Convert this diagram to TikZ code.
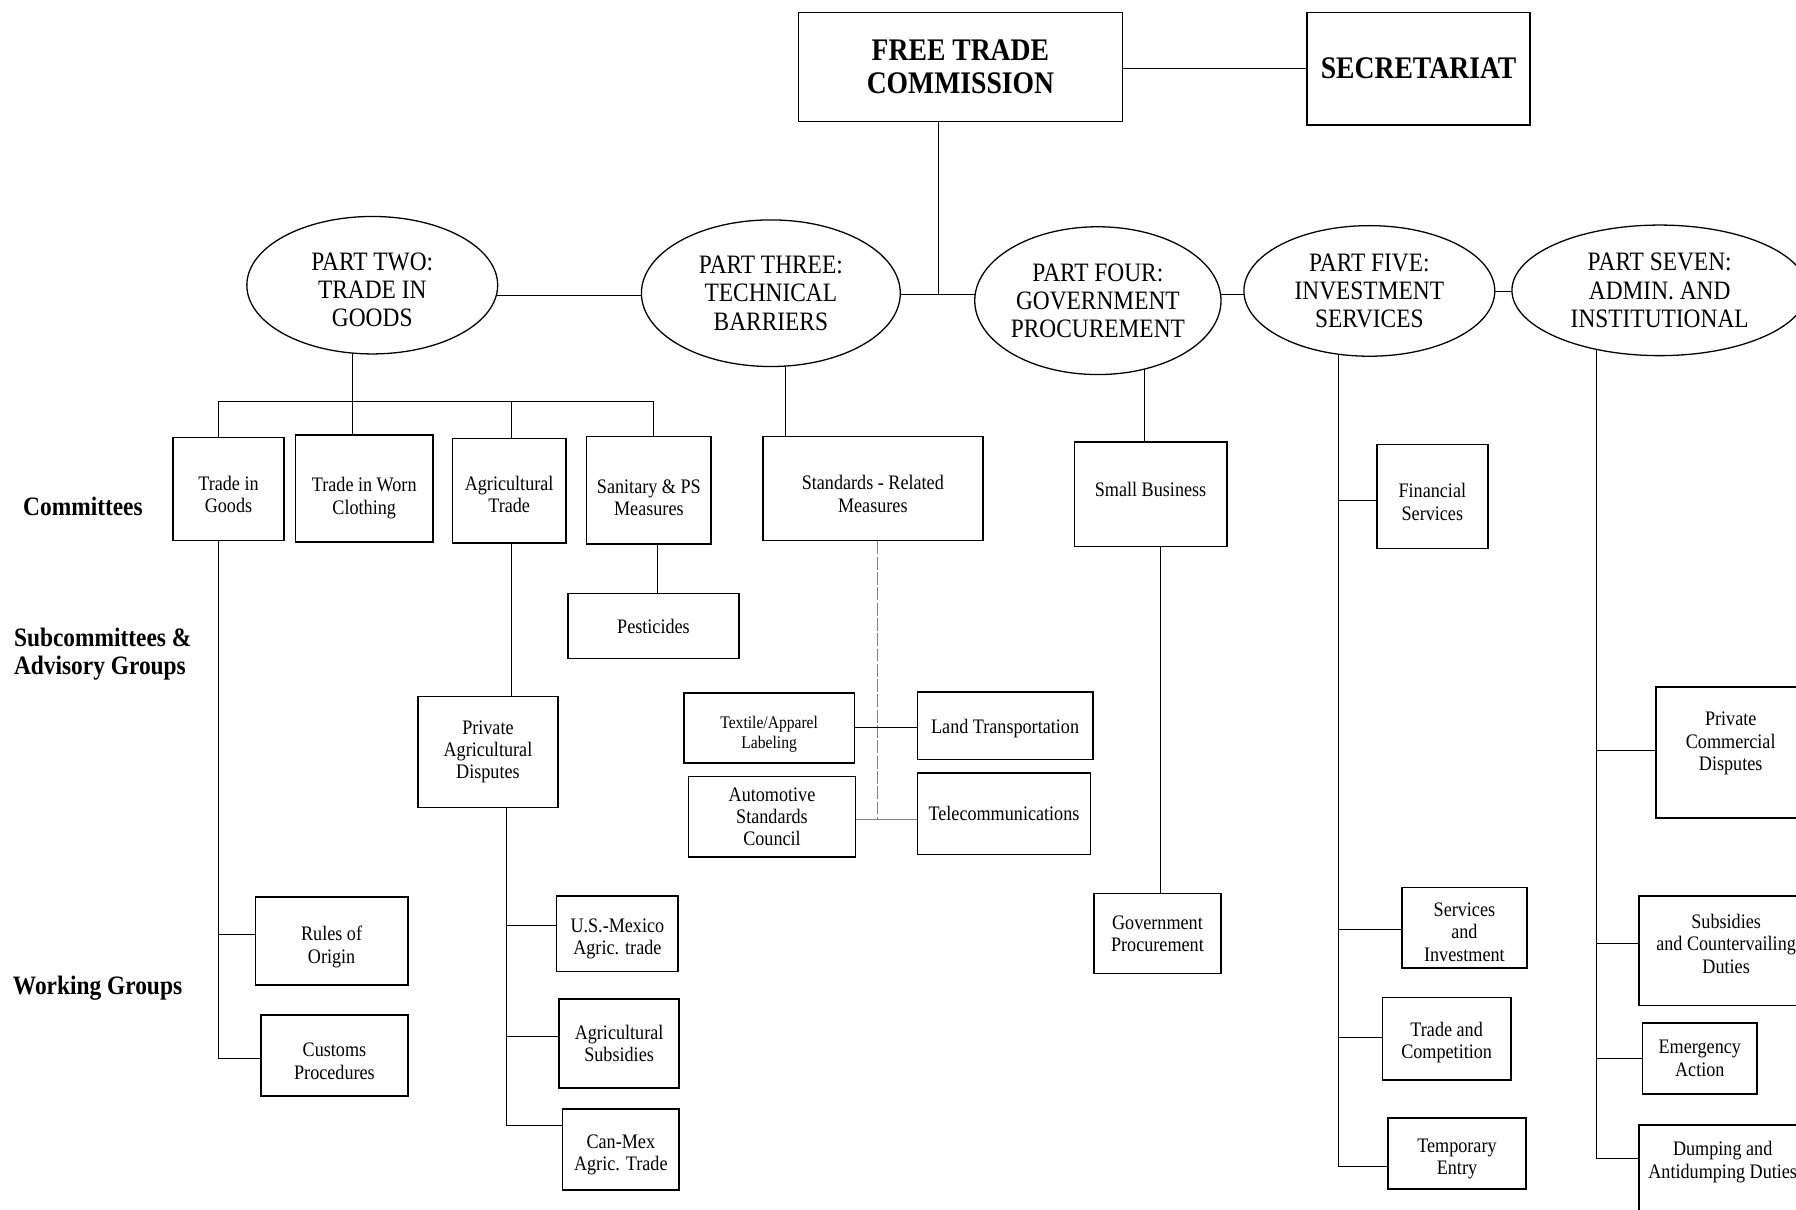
\documentclass[tikz,border=0pt]{standalone}
\usepackage{fontspec}
\setmainfont{Liberation Serif}[FakeStretch=0.88]
\usetikzlibrary{shapes.geometric,backgrounds}

\newcommand\mkbox[7][]{%
  \node[box,#1,minimum width={(#5-#3)*0.025cm},minimum height={(#6-#4)*0.025cm}] (#2) at ({(#3+#5)/2},{(#4+#6)/2}) {#7};}
\newcommand\mkell[7][]{%
  \node[part,#1,minimum width={#5*0.025cm},minimum height={#6*0.025cm}] (#2) at (#3,#4) {#7};}

\begin{document}
\begin{tikzpicture}[x=0.025cm,y=-0.025cm,
  box/.style={draw,line width=1pt,fill=white,inner sep=0pt,align=center,font=\fontsize{12.8}{13.9}\selectfont},
  small/.style={font=\fontsize{11}{12.1}\selectfont},
  down/.style={execute at begin node={\rule{0pt}{#1}}},
  up/.style={execute at end node={\rule[-#1]{0pt}{#1}}},
  part/.style={ellipse,draw,line width=0.8pt,fill=white,inner sep=0pt,align=center,font=\fontsize{16.5}{17.5}\selectfont},
  head/.style={font=\bfseries\fontsize{19.5}{20.6}\selectfont},
  lab/.style={anchor=west,align=left,inner sep=0pt,font=\bfseries\fontsize{16.5}{17.8}\selectfont},
  conn/.style={line width=0.8pt},
  faint/.style={line width=0.6pt,gray,dash pattern=on 8pt off 1.5pt}]

\useasboundingbox (0,0) rectangle (1568,1056);
\clip (0,0) rectangle (1568,1056);

% top
\mkbox[head]{ftc}{697}{11}{980}{106}{FREE TRADE\\COMMISSION}
\mkbox[head]{sec}{1141}{11}{1336}{109}{SECRETARIAT}

% parts
\mkell[down=51.3pt]{e2}{325}{249}{219}{120}{PART TWO:\\TRADE IN\\GOODS}
\mkell{e3}{673}{256}{226}{128}{PART THREE:\\TECHNICAL\\BARRIERS}
\mkell{e4}{958.5}{262.5}{211}{129}{PART FOUR:\\GOVERNMENT\\PROCUREMENT}
\mkell{e5}{1195.5}{254}{219}{114}{PART FIVE:\\INVESTMENT\\SERVICES}
\mkell{e7}{1449}{253.5}{258}{114}{PART SEVEN:\\ADMIN. AND\\INSTITUTIONAL}

% committees
\mkbox[down=29.7pt]{tig}{151}{382}{248}{472}{Trade in\\Goods}
\mkbox[down=34.5pt]{twc}{258}{380}{378}{473}{Trade in Worn\\Clothing}
\mkbox[down=27.5pt]{agt}{395}{383}{494}{474}{Agricultural\\Trade}
\mkbox[down=31.7pt]{sps}{512}{381}{621}{475}{Sanitary \& PS\\Measures}
\mkbox[down=29.7pt]{std}{666}{381}{858}{472}{Standards - Related\\Measures}
\mkbox[up=5.6pt]{sb}{938}{386}{1071}{477}{Small Business}
\mkbox[down=29.7pt]{fin}{1202}{388}{1299}{479}{Financial\\Services}

% subcommittees
\mkbox{pes}{496}{518}{645}{575}{Pesticides}
\mkbox{pad}{365}{608}{487}{705}{Private\\Agricultural\\Disputes}
\mkbox[small,down=27.4pt]{tex}{597}{605}{746}{666}{Textile/Apparel\\Labeling}
\mkbox{aut}{601}{678}{747}{748}{Automotive\\Standards\\Council}
\mkbox[down=12.8pt]{land}{801}{604}{954}{663}{Land Transportation}
\mkbox{tel}{801}{675}{952}{746}{Telecommunications}
\mkbox{pcd}{1446}{600}{1576}{714}{Private\\Commercial\\Disputes\\~}

% working groups
\mkbox{gp}{955}{780}{1066}{850}{Government\\Procurement}
\mkbox[down=30.3pt]{roo}{223}{783}{356}{860}{Rules of\\Origin}
\mkbox[down=29.7pt]{cus}{228}{886}{356}{957}{Customs\\Procedures}
\mkbox[down=28.9pt]{usm}{486}{782}{592}{848}{U.S.-Mexico\\Agric. trade}
\mkbox{ags}{488}{872}{593}{950}{Agricultural\\Subsidies}
\mkbox[down=28.9pt]{cmx}{491}{968}{593}{1039}{Can-Mex\\Agric. Trade}
\mkbox[down=41.4pt]{sai}{1224}{775}{1333}{845}{Services\\and\\Investment}
\mkbox[down=27.5pt]{tac}{1207}{871}{1319}{943}{Trade and\\Competition}
\mkbox[down=28.9pt]{tem}{1212}{976}{1332}{1038}{Temporary\\Entry}
\mkbox[up=8.5pt]{scd}{1431}{782}{1583}{878}{Subsidies\\and Countervailing\\Duties}
\mkbox{ema}{1434}{893}{1534}{955}{Emergency\\Action}
\mkbox{dad}{1431}{982}{1577}{1082}{Dumping and\\Antidumping Duties\\~\\~}

% row labels
\node[lab] (lc) at (20,442) {Committees};
\node[lab] (ls) at (12,571) {Subcommittees \&\\Advisory Groups};
\node[lab] (lw) at (11,863) {Working Groups};

% helper coordinates
\coordinate (cs) at (0,60);
\coordinate (j) at (819,257);
\coordinate (b23) at (0,258);
\coordinate (b57) at (0,254.6);
\coordinate (d2) at (308,350);
\coordinate (bl) at (191,350);
\coordinate (br) at (570,350);
\coordinate (x3) at (446,0);
\coordinate (rr) at (191,815.5);
\coordinate (rc) at (191,924);
\coordinate (p1) at (442,807.6);
\coordinate (p2) at (442,905);
\coordinate (p3) at (442,982.6);
\coordinate (xs) at (574,0);
\coordinate (xt) at (686,0);
\coordinate (sv) at (766,715);
\coordinate (tl) at (0,635);
\coordinate (xf) at (999,0);
\coordinate (xg) at (1013,0);
\coordinate (f1) at (1168,436.7);
\coordinate (f2) at (1168,811.4);
\coordinate (f3) at (1168,906);
\coordinate (f4) at (1168,1018.2);
\coordinate (s1) at (1393.5,655.4);
\coordinate (s2) at (1393.5,823.6);
\coordinate (s3) at (1393.5,924);
\coordinate (s4) at (1393.5,1011.4);

\begin{scope}[on background layer,conn]
  \draw (ftc.east |- cs) -- (sec.west |- cs);
  \draw (ftc.south -| j) -- (j);
  \draw (e3.center |- j) -- (e4.center |- j);
  \draw (e2.center |- b23) -- (e3.center |- b23);
  \draw (e4.center |- j) -- (e5.center |- j);
  \draw (e5.center |- b57) -- (e7.center |- b57);
  % part two
  \draw (e2.center -| d2) -- (d2);
  \draw (bl) -- (br);
  \draw (bl) -- (bl |- tig.north);
  \draw (d2) -- (d2 |- twc.north);
  \draw (bl -| x3) -- (x3 |- agt.north);
  \draw (br) -- (br |- sps.north);
  \draw (tig.south -| rr) -- (rc) -- (rc -| cus.west);
  \draw (rr) -- (rr -| roo.west);
  \draw (agt.south -| x3) -- (x3 |- pad.north);
  \draw (pad.south -| p1) -- (p3) -- (p3 -| cmx.west);
  \draw (p1) -- (p1 -| usm.west);
  \draw (p2) -- (p2 -| ags.west);
  \draw (sps.south -| xs) -- (xs |- pes.north);
  % part three
  \draw (e3.center -| xt) -- (xt |- std.north);
  \draw[faint] (std.south -| sv) -- (sv);
  \draw (tex.east |- tl) -- (land.west |- tl);
  \draw[gray] (aut.east |- sv) -- (tel.west |- sv);
  % part four
  \draw (e4.center -| xf) -- (xf |- sb.north);
  \draw (sb.south -| xg) -- (xg |- gp.north);
  % part five
  \draw (e5.center -| f1) -- (f4) -- (f4 -| tem.west);
  \draw (f1) -- (f1 -| fin.west);
  \draw (f2) -- (f2 -| sai.west);
  \draw (f3) -- (f3 -| tac.west);
  % part seven
  \draw (e7.center -| s1) -- (s4) -- (s4 -| dad.west);
  \draw (s1) -- (s1 -| pcd.west);
  \draw (s2) -- (s2 -| scd.west);
  \draw (s3) -- (s3 -| ema.west);
\end{scope}
\end{tikzpicture}
\end{document}
